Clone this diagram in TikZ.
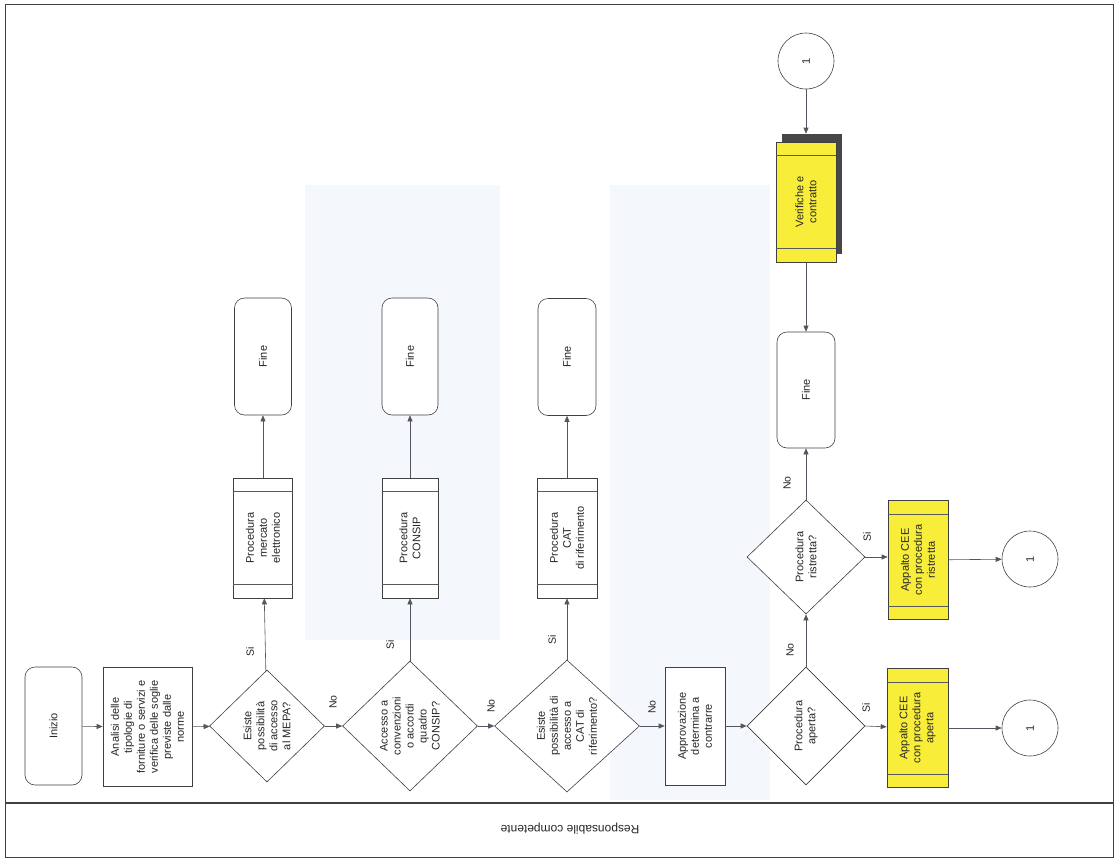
\documentclass[tikz,border=0pt]{standalone}
\usepackage{fontspec}
\setmainfont{Liberation Sans}
\usetikzlibrary{shapes.geometric,arrows.meta,backgrounds}
\definecolor{ylw}{RGB}{248,238,58}
\definecolor{wm}{RGB}{244,248,253}
\definecolor{ln}{RGB}{85,85,95}
\begin{document}
\begin{tikzpicture}[x=1pt,y=-1pt,
  base/.style={rotate=90,font=\fontsize{11}{13}\selectfont,align=center,text=black!85,inner sep=1pt,draw=black!75,line width=0.6pt,fill=white},
  term/.style={base,rounded corners=10pt,minimum width=117pt,minimum height=57pt},
  proc/.style={base,minimum width=120pt,minimum height=59pt},
  yel/.style={proc,fill=ylw},
  dec/.style={base,diamond,inner sep=0pt},
  conn/.style={base,circle,minimum size=56pt},
  lab/.style={rotate=90,font=\fontsize{10.5}{12}\selectfont,text=black!85,inner sep=1pt},
  arr/.style={draw=ln,line width=0.6pt,-{Triangle[length=6pt,width=5pt]}}]
\useasboundingbox (0,0) rectangle (1119,860);
% watermark
\fill[wm] (305,185) rectangle (500,640);
\fill[wm] (610,185) rectangle (770,800);
% frame
\draw[line width=1pt,black!75] (5,4) rectangle (1113,857);
\draw[line width=1.6pt,black!75] (5,803) -- (1113,803);
\node[rotate=180,font=\fontsize{12}{14}\selectfont,text=black!85] (lane) at (570,829) {Responsabile competente};
% main row
\node[term,minimum width=118pt] (ini) at (53.5,726) {Inizio};
\node[proc,minimum width=119pt,minimum height=89pt] (ana) at (147.5,727) {Analisi delle\\tipologie di\\forniture o servizi e\\verifica delle soglie\\previste dalle\\norme};
\node[dec,minimum width=112pt,minimum height=115pt] (mepa) at (267,726) {Esiste\\possibilità\\di accesso\\al MEPA?};
\node[dec,minimum width=130pt,minimum height=135pt] (consip) at (410,726) {Accesso a\\convenzioni\\o accordi\\quadro\\CONSIP?};
\node[dec,minimum width=132pt,minimum height=145pt] (cat) at (567,726) {Esiste\\possibilità di\\accesso a\\CAT di\\riferimento?};
\node[proc,minimum width=118pt,minimum height=60pt] (appr) at (695,726) {Approvazione\\determina a\\contrarre};
\node[dec,minimum width=118pt,minimum height=118pt] (ap) at (806,726) {Procedura\\aperta?};
\node[yel,minimum width=119pt,minimum height=61pt] (ya) at (917.5,728) {Appalto CEE\\con procedura\\aperta};
\node[conn] (c1a) at (1030,728) {1};
% branches
\node[proc] (pm) at (263,538) {Procedura\\mercato\\elettronico};
\node[term] (f1) at (263,356.5) {Fine};
\node[proc,minimum height=56pt] (pc) at (410,538) {Procedura\\CONSIP};
\node[term,minimum height=56pt] (f2) at (410,356.5) {Fine};
\node[proc,minimum height=60pt] (pt) at (567,538) {Procedura\\CAT\\di riferimento};
\node[term,minimum height=58pt] (f3) at (567,357) {Fine};
% upper right column
\node[dec,minimum width=114pt,minimum height=118pt] (ri) at (806,557) {Procedura\\ristretta?};
\node[yel,minimum width=119pt,minimum height=60pt] (yr) at (918,560) {Appalto CEE\\con procedura\\ristretta};
\node[conn] (c1b) at (1030,559) {1};
\node[term,minimum width=116pt,minimum height=58pt] (f4) at (806,390) {Fine};
\node[yel,minimum width=120pt,minimum height=60pt] (ver) at (806,202) {Verifiche e\\contratto};
\node[conn] (c1t) at (806,61) {1};
% shadow of ver
\begin{pgfonlayer}{background}
\fill[black!72] ([xshift=6pt,yshift=8pt]ver.north west) rectangle ([xshift=6pt,yshift=8pt]ver.south east);
\end{pgfonlayer}
\coordinate (vtop) at ([yshift=8pt]ver.east);
% inner lines of process boxes
\foreach \n in {pm,pc,pt,ya,yr,ver}{
  \draw[black!65,line width=0.5pt] ([yshift=-14pt]\n.north east) -- ([yshift=-14pt]\n.south east);
  \draw[black!65,line width=0.5pt] ([yshift=14pt]\n.north west) -- ([yshift=14pt]\n.south west);
}
% connectors
\draw[arr] (ini) -- (ana);
\draw[arr] (ana) -- (mepa);
\draw[arr] (mepa) -- (consip);
\draw[arr] (consip) -- (cat);
\draw[arr] (cat) -- (appr);
\draw[arr] (appr) -- (ap);
\draw[arr] (ap.south) -- (ya);
\draw[arr] (ya) -- (c1a);
\draw[arr] (mepa) -- (pm);
\draw[arr] (pm) -- (f1);
\draw[arr] (consip) -- (pc);
\draw[arr] (pc) -- (f2);
\draw[arr] (cat) -- (pt);
\draw[arr] (pt) -- (f3);
\draw[arr] (ap) -- (ri);
\draw[arr] (ri.south) -- (yr.north west |- ri.south);
\draw[arr] (yr) -- (c1b);
\draw[arr] (ri) -- (f4);
\draw[arr] (ver) -- (f4);
\draw[arr] (c1t) -- (vtop);
% labels
\node[lab] (l1) at (250,652) {Si};
\node[lab] (l2) at (333,702) {No};
\node[lab] (l3) at (390,645) {Si};
\node[lab] (l4) at (491,706) {No};
\node[lab] (l5) at (552,640) {Si};
\node[lab] (l6) at (652,707) {No};
\node[lab] (l7) at (790,650) {No};
\node[lab] (l8) at (866,708) {Si};
\node[lab] (l9) at (787,483) {No};
\node[lab] (l10) at (867,537) {Si};
\end{tikzpicture}
\end{document}
